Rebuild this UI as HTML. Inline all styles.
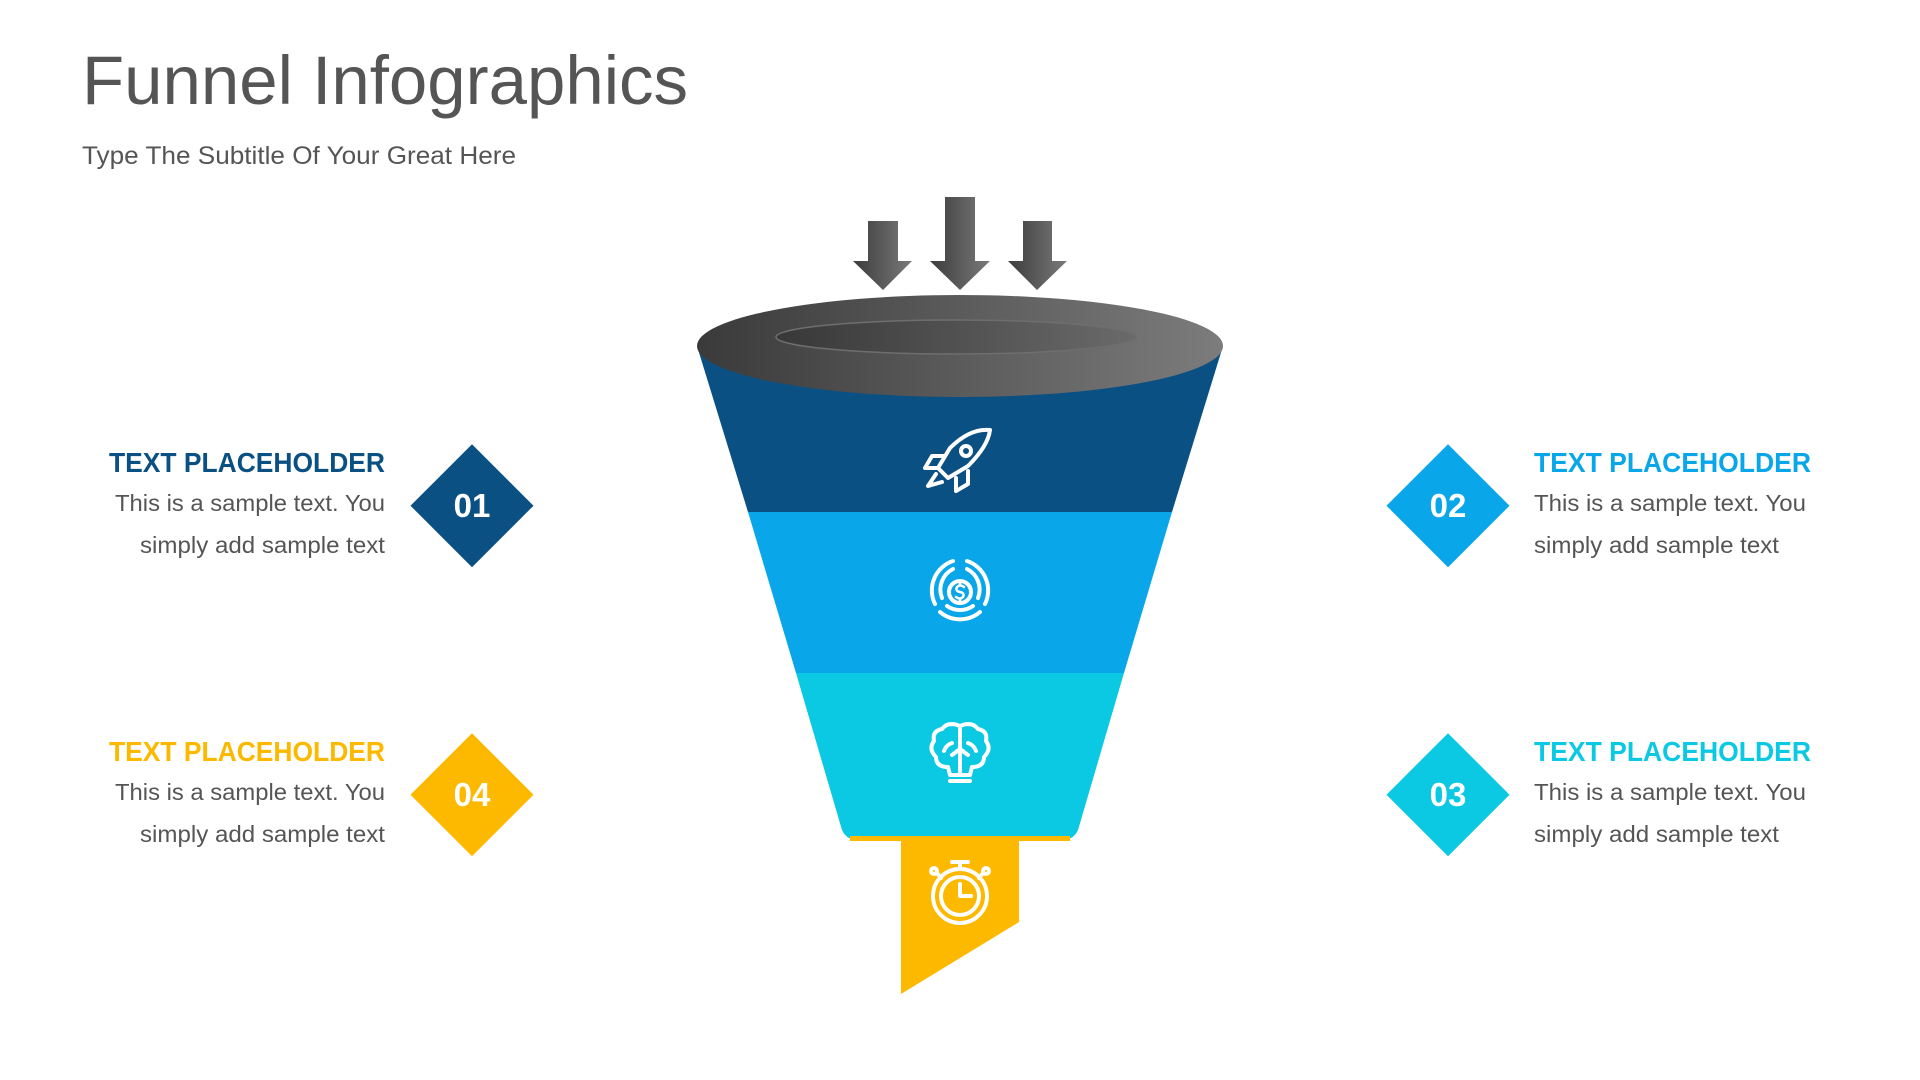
<!DOCTYPE html>
<html><head><meta charset="utf-8"><style>
html,body{margin:0;padding:0;background:#fff;}
svg{display:block;}
text{font-family:"Liberation Sans",sans-serif;}
</style></head><body>
<svg width="1920" height="1080" viewBox="0 0 1920 1080" xmlns="http://www.w3.org/2000/svg">
<defs>
<linearGradient id="ga" x1="0" x2="1" y1="0" y2="0"><stop offset="0" stop-color="#3c3c3c"/><stop offset="1" stop-color="#7a7a7a"/></linearGradient>
<linearGradient id="gr" x1="0" x2="1" y1="0" y2="0"><stop offset="0" stop-color="#3a3a3a"/><stop offset="1" stop-color="#7c7c7c"/></linearGradient>
<linearGradient id="gi" x1="0" x2="1" y1="0" y2="0"><stop offset="0" stop-color="#383838"/><stop offset="1" stop-color="#6a6a6a"/></linearGradient>
</defs>
<text x="82" y="104" font-size="69" fill="#555">Funnel Infographics</text>
<text x="82" y="164" font-size="25" fill="#555" textLength="434" lengthAdjust="spacingAndGlyphs">Type The Subtitle Of Your Great Here</text>

<!-- arrows -->
<path d="M868 221 H898 V261 H912 L883 290 L853 261 H868 Z" fill="url(#ga)"/>
<path d="M945 197 H975 V261 H990 L960 290 L930 261 H945 Z" fill="url(#ga)"/>
<path d="M1023 221 H1052 V261 H1067 L1037 290 L1008 261 H1023 Z" fill="url(#ga)"/>

<!-- funnel bands -->
<path d="M697 346 L1223 346 L1172 512 L748 512 Z" fill="#0b5083"/>
<path d="M748 512 L1172 512 L1124 673 L796 673 Z" fill="#0aa6ea"/>
<path d="M796 673 L1124 673 L1078 830 Q1074 839 1064 840 L856 840 Q846 839 842 830 Z" fill="#0bc9e2"/>
<rect x="850" y="836" width="220" height="5" fill="#fcb900"/>
<path d="M901 841 H1019 V922 L901 994 Z" fill="#fcb900"/>

<!-- rim -->
<ellipse cx="960" cy="346" rx="263" ry="51" fill="url(#gr)"/>
<ellipse cx="956" cy="337" rx="180" ry="17" fill="url(#gi)" stroke="#6e6e6e" stroke-width="1.5"/>

<!-- icons -->
<g fill="none" stroke="#fff" stroke-width="4" stroke-linecap="round" stroke-linejoin="round">
 <g transform="translate(0,98)">
 <path d="M990 332 Q970 330 950 350 L938 370 L948 380 L968 368 Q988 348 990 332 Z"/>
 <circle cx="966" cy="353" r="5"/>
 <path d="M945 358 L932 358 L925 370 L938 370"/>
 <path d="M968 373 L968 386 L956 393 L956 380"/>
 <path d="M936 376 L928 388 L942 384"/>
 </g>
 <g transform="translate(0,136)">
 <path d="M953 425 A31 31 0 0 0 935 468" /><path d="M967 425 A31 31 0 0 1 985 468"/><path d="M940 476 A31 31 0 0 0 980 476"/>
 <path d="M953 433 A23 23 0 0 0 942 462"/><path d="M967 433 A23 23 0 0 1 978 462"/><path d="M947 470 A23 23 0 0 0 973 470"/>
 <circle cx="960" cy="456" r="11"/>
 <path d="M964 451 Q960 448 957 451 Q955 455 960 456 Q965 457 963 461 Q960 464 956 461 M960 446 V449 M960 463 V466" stroke-width="2.5"/>
 </g>
 <g transform="translate(0,193)">
 <path d="M960 533 Q948 528 942 536 Q932 538 934 548 Q928 556 936 564 Q936 574 948 574 L950 582 L970 582 L972 574 Q984 574 984 564 Q992 556 986 548 Q988 538 978 536 Q972 528 960 533 Z"/>
 <path d="M960 533 V582 M950 588 H970 M952 550 Q946 552 944 558 M968 550 Q974 552 976 558 M960 556 L952 562 M960 556 L968 562"/>
 </g>
 <g transform="translate(0,237)">
 <circle cx="960" cy="659" r="27"/>
 <circle cx="960" cy="659" r="19"/>
 <path d="M960 647 V659 H971"/>
 <path d="M960 632 V625 M952 625 H968"/>
 <circle cx="934" cy="634" r="3"/><circle cx="986" cy="634" r="3"/>
 <path d="M937 636 L941 641 M983 636 L979 641"/>
 </g>
</g>

<!-- left side -->
<text x="385" y="472" font-size="28" font-weight="bold" fill="#0b5083" text-anchor="end" textLength="276" lengthAdjust="spacingAndGlyphs">TEXT PLACEHOLDER</text>
<text x="385" y="511" font-size="23" fill="#555" text-anchor="end" textLength="270" lengthAdjust="spacingAndGlyphs">This is a sample text. You</text>
<text x="385" y="553" font-size="23" fill="#555" text-anchor="end" textLength="245" lengthAdjust="spacingAndGlyphs">simply add sample text</text>
<rect x="429" y="462" width="87" height="87" fill="#0b5083" transform="rotate(45 472 505)"/>
<text x="472" y="517" font-size="33" font-weight="bold" fill="#fff" text-anchor="middle">01</text>

<text x="385" y="761" font-size="28" font-weight="bold" fill="#fcb900" text-anchor="end" textLength="276" lengthAdjust="spacingAndGlyphs">TEXT PLACEHOLDER</text>
<text x="385" y="800" font-size="23" fill="#555" text-anchor="end" textLength="270" lengthAdjust="spacingAndGlyphs">This is a sample text. You</text>
<text x="385" y="842" font-size="23" fill="#555" text-anchor="end" textLength="245" lengthAdjust="spacingAndGlyphs">simply add sample text</text>
<rect x="429" y="751" width="87" height="87" fill="#fcb900" transform="rotate(45 472 794)"/>
<text x="472" y="806" font-size="33" font-weight="bold" fill="#fff" text-anchor="middle">04</text>

<!-- right side -->
<text x="1534" y="472" font-size="28" font-weight="bold" fill="#0aa6ea" textLength="277" lengthAdjust="spacingAndGlyphs">TEXT PLACEHOLDER</text>
<text x="1534" y="511" font-size="23" fill="#555" textLength="272" lengthAdjust="spacingAndGlyphs">This is a sample text. You</text>
<text x="1534" y="553" font-size="23" fill="#555" textLength="245" lengthAdjust="spacingAndGlyphs">simply add sample text</text>
<rect x="1405" y="462" width="87" height="87" fill="#0aa6ea" transform="rotate(45 1448 505)"/>
<text x="1448" y="517" font-size="33" font-weight="bold" fill="#fff" text-anchor="middle">02</text>

<text x="1534" y="761" font-size="28" font-weight="bold" fill="#0bc9e2" textLength="277" lengthAdjust="spacingAndGlyphs">TEXT PLACEHOLDER</text>
<text x="1534" y="800" font-size="23" fill="#555" textLength="272" lengthAdjust="spacingAndGlyphs">This is a sample text. You</text>
<text x="1534" y="842" font-size="23" fill="#555" textLength="245" lengthAdjust="spacingAndGlyphs">simply add sample text</text>
<rect x="1405" y="751" width="87" height="87" fill="#0bc9e2" transform="rotate(45 1448 794)"/>
<text x="1448" y="806" font-size="33" font-weight="bold" fill="#fff" text-anchor="middle">03</text>
</svg>
</body></html>
